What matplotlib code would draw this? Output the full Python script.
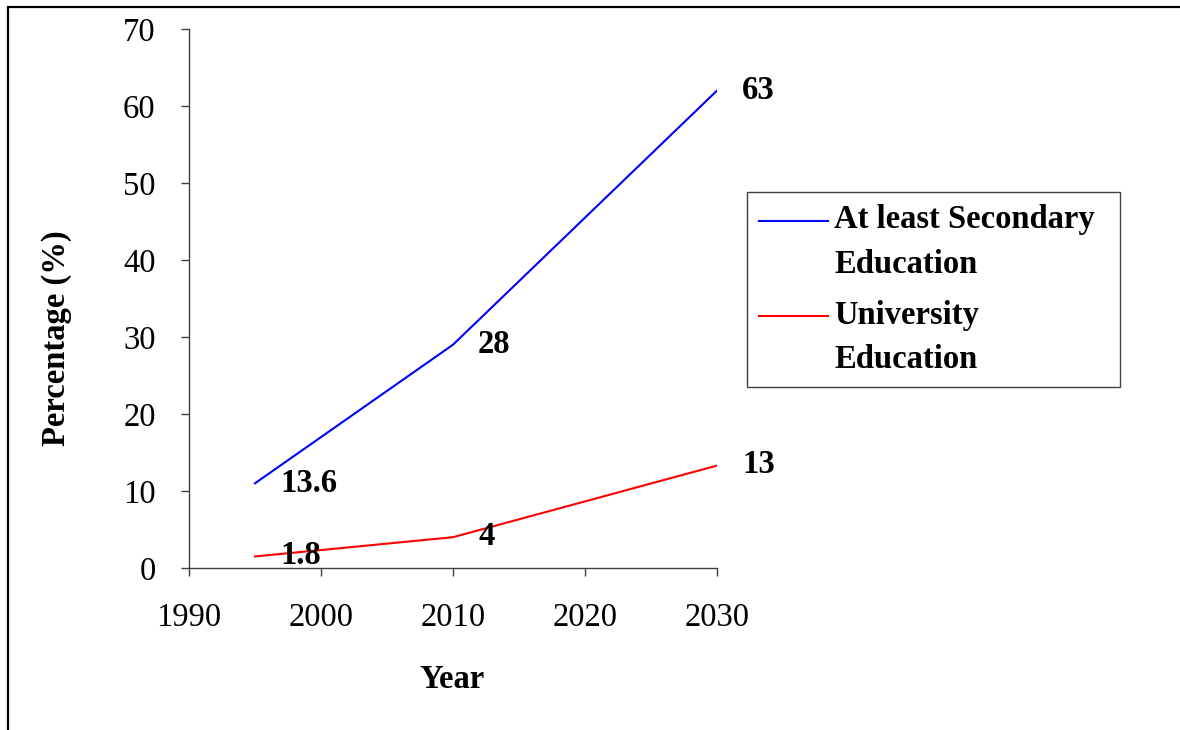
import numpy as np
import matplotlib
matplotlib.use("Agg")
import matplotlib.pyplot as plt
from matplotlib.patches import Rectangle
from matplotlib.legend_handler import HandlerLine2D

# ---- data ----
years = [1995, 2010, 2030]
secondary = [11.0, 29.0, 62.0]
university = [1.5, 4.0, 13.3]
secondary_labels = ["13.6", "28", "63"]
university_labels = ["1.8", "4", "13"]
series_names = ["At least Secondary\nEducation", "University\nEducation"]
xticks = [1990, 2000, 2010, 2020, 2030]
yticks = [0, 10, 20, 30, 40, 50, 60, 70]

plt.rcParams['font.family'] = ['Liberation Serif', 'DejaVu Serif']
FS = 23.5

W, H = 1180, 730
fig = plt.figure(figsize=(W / 100, H / 100), dpi=100)
ax = fig.add_axes([189 / W, 1 - 568 / H, (717 - 189) / W, (568 - 29) / H])

l1, = ax.plot(years, secondary, color='#0000ff', lw=1.5, label=series_names[0])
l2, = ax.plot(years, university, color='#ff0000', lw=1.5, label=series_names[1])

for x, y, t in zip(years, secondary, secondary_labels):
    ax.annotate(t, (x, y), xytext=(18, 0), textcoords='offset points',
                ha='left', va='center', fontsize=FS, fontweight='bold')
for x, y, t in zip(years, university, university_labels):
    ax.annotate(t, (x, y), xytext=(18, 0.5), textcoords='offset points',
                ha='left', va='center', fontsize=FS, fontweight='bold')

ax.set_xlim(1990, 2030)
ax.set_ylim(0, 70)
ax.set_xticks(xticks)
ax.set_yticks(yticks)
ax.tick_params(axis='both', direction='out', length=6, width=1, color='#404040',
               labelsize=FS)
ax.tick_params(axis='x', pad=19)
ax.tick_params(axis='y', pad=18)
for s in ['top', 'right']:
    ax.spines[s].set_visible(False)
for s in ['left', 'bottom']:
    ax.spines[s].set_color('#404040')
    ax.spines[s].set_linewidth(1)

fig.text(57 / W, 1 - 338 / H, "Percentage (%)", rotation=90, ha='center', va='center',
         fontsize=FS, fontweight='bold')
fig.text(452 / W, 1 - 680 / H, "Year", ha='center', va='center',
         fontsize=FS, fontweight='bold')


class TopLine(HandlerLine2D):
    def create_artists(self, legend, orig_handle, xdescent, ydescent, width, height,
                       fontsize, trans):
        arts = super().create_artists(legend, orig_handle, xdescent, ydescent, width,
                                      height, fontsize, trans)
        for a in arts:
            a.set_ydata(np.asarray(a.get_ydata(), dtype=float) + 0.66 * fontsize)
        return arts


leg = ax.legend(handles=[l1, l2], loc='upper left',
                bbox_to_anchor=(747 / W, 1 - 383 / H, (1120 - 747) / W, (383 - 192) / H),
                bbox_transform=fig.transFigure, mode='expand',
                borderaxespad=0, frameon=True, fancybox=False, framealpha=1,
                edgecolor='#404040', prop={'size': FS, 'weight': 'bold'},
                handlelength=2.1, handletextpad=0.2, labelspacing=0.62, borderpad=0.38,
                handler_map={l1: TopLine(), l2: TopLine()})
for t in leg.get_texts():
    t.set_linespacing(1.55)
leg.get_frame().set_linewidth(1)

# outer frame (clipped by the image on right and bottom)
fig.add_artist(Rectangle((7.5 / W, -0.1), 1.2, 1 - 6.5 / H + 0.1, transform=fig.transFigure,
                         fill=False, edgecolor='black', lw=1.6, clip_on=False))

fig.savefig("out.png", dpi=100)
